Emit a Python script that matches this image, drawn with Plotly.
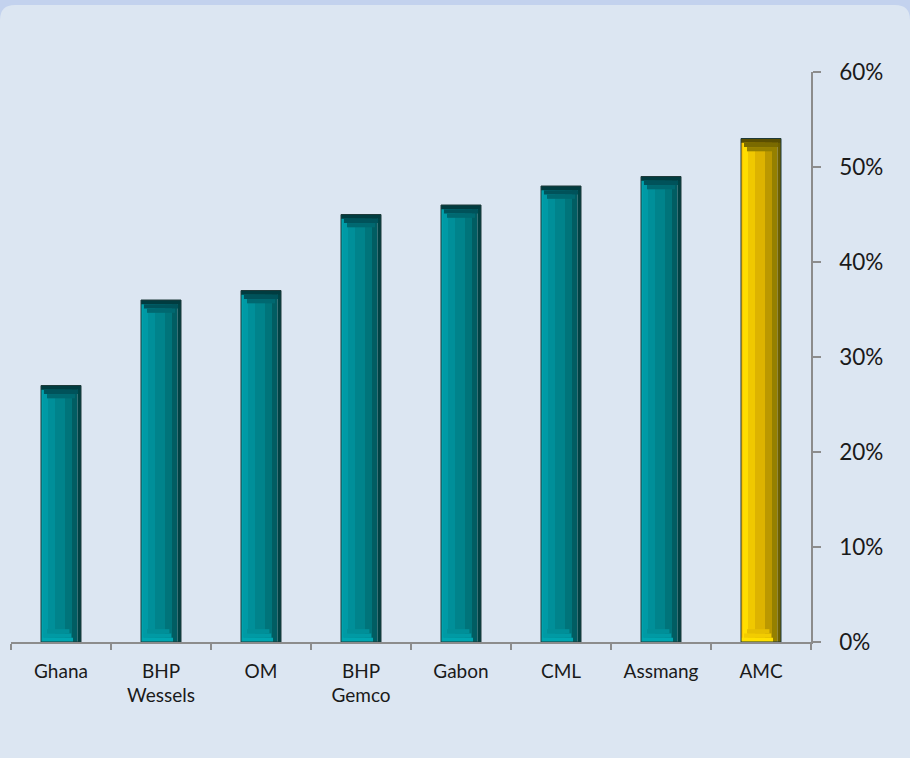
import plotly.graph_objects as go

categories = ["Ghana", "BHP<br>Wessels", "OM", "BHP<br>Gemco", "Gabon", "CML", "Assmang", "AMC"]
values = [27, 36, 37, 45, 46, 48, 49, 53]
highlight = "AMC"
y_ticks = [0, 10, 20, 30, 40, 50, 60]
y_tick_text = ["0%", "10%", "20%", "30%", "40%", "50%", "60%"]

W, H = 910, 758
L, R, T, B = 11, 99, 72, 116
PW, PH = W - L - R, H - T - B

def px(x):
    return (x - L) / PW

def py(y):
    return (H - B - y) / PH

# colour palettes (teal / gold) for vertical strips left -> right
teal_strips = ["#00A3AD", "#009AA5", "#008F99", "#00838B", "#00747A", "#005D62", "#004244"]
gold_strips = ["#FFC400", "#FFDE00", "#F0C800", "#DDB300", "#BB9800", "#958000", "#6E6000"]
strip_edges = [-0.2, -0.18, -0.13, -0.06, 0.04, 0.11, 0.165, 0.2]

is_hl = [c == highlight for c in categories]

fig = go.Figure()

for i in range(len(teal_strips)):
    cols = [gold_strips[i] if h else teal_strips[i] for h in is_hl]
    fig.add_trace(go.Bar(
        x=categories, y=values, width=strip_edges[i + 1] - strip_edges[i],
        offset=strip_edges[i], marker=dict(color=cols, line=dict(width=0)),
        hoverinfo="skip", showlegend=False))

# top bevel caps
cap_specs = [(0.45, 0.4, -0.2, "#003C40", "#5A4E00"),
             (0.45, 0.34, -0.17, "#00525A", "#7A6A00"),
             (0.45, 0.28, -0.14, "#006870", "#958000")]
for k, (h, w, off, ct, cg) in enumerate(cap_specs):
    fig.add_trace(go.Bar(
        x=categories, y=[h] * len(values), base=[v - h * (k + 1) for v in values],
        width=w, offset=off,
        marker=dict(color=[cg if hh else ct for hh in is_hl], line=dict(width=0)),
        hoverinfo="skip", showlegend=False))

# bottom bevel (lighter)
bot_specs = [(0.45, 0.4, -0.2, "#00A6B0", "#FFE000"),
             (0.45, 0.34, -0.17, "#009AA4", "#F2CC00"),
             (0.45, 0.28, -0.14, "#008F98", "#E6BE00")]
for k, (h, w, off, ct, cg) in enumerate(bot_specs):
    fig.add_trace(go.Bar(
        x=categories, y=[h] * len(values), base=[h * k for _ in values],
        width=w * 0.8, offset=off,
        marker=dict(color=[cg if hh else ct for hh in is_hl], line=dict(width=0)),
        hoverinfo="skip", showlegend=False))

# outline
fig.add_trace(go.Bar(
    x=categories, y=values, width=0.4, offset=-0.2,
    marker=dict(color="rgba(0,0,0,0)", line=dict(color="#1E3A3A", width=1)),
    hoverinfo="skip", showlegend=False))

# background panel with rounded top corners
r = 15
x0, x1 = px(0), px(W)
y0, y1 = py(5), py(H)
rx, ry = r / PW, r / PH
path = (f"M {x0},{y1} L {x0},{y0 - ry} Q {x0},{y0} {x0 + rx},{y0} "
        f"L {x1 - rx},{y0} Q {x1},{y0} {x1},{y0 - ry} L {x1},{y1} Z")

fig.update_layout(
    width=W, height=H,
    margin=dict(l=L, r=R, t=T, b=B),
    paper_bgcolor="#C3D2EE",
    plot_bgcolor="rgba(0,0,0,0)",
    barmode="overlay",
    font=dict(family="Lato, 'Open Sans', sans-serif", color="#1A1A1A"),
    shapes=[dict(type="path", path=path, xref="paper", yref="paper",
                 fillcolor="#DCE6F2", line=dict(width=0), layer="below")],
    xaxis=dict(
        type="category", showgrid=False, zeroline=False,
        showline=True, linecolor="#8C8C8C", linewidth=1.5,
        ticks="outside", tickson="boundaries", ticklen=6, tickcolor="#8C8C8C", tickwidth=1.5,
        tickfont=dict(size=19, color="#1A1A1A"), ticklabelstandoff=11,
        range=[-0.5, len(categories) - 0.5], fixedrange=True,
    ),
    yaxis=dict(
        side="right", range=[0, 60], tickvals=y_ticks, ticktext=y_tick_text,
        showgrid=False, zeroline=False,
        showline=True, linecolor="#8C8C8C", linewidth=1.5,
        ticks="outside", ticklen=8, tickcolor="#8C8C8C", tickwidth=1.5,
        tickfont=dict(size=22.5, color="#1A1A1A"), ticklabelstandoff=14,
        fixedrange=True,
    ),
)

fig.write_html("out.html")
